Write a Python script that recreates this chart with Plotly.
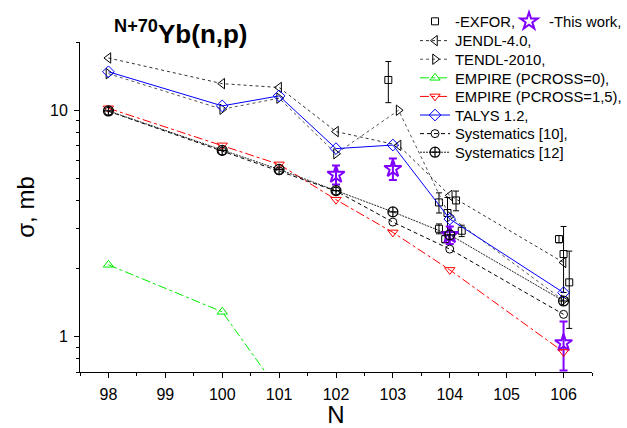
import math
import plotly.graph_objects as go

# ---------------- data ----------------
N_model = [98, 100, 101, 102, 103, 104, 106]

jendl_N = [98, 100, 101, 102, 103.1, 104, 106]
jendl = [17.0, 13.1, 12.6, 8.05, 7.0, 4.21, 2.13]

tendl_N = [98, 100, 101, 102, 103.1, 104, 106]
tendl = [14.5, 10.1, 11.3, 6.43, 10.0, 3.4, 1.45]

empire0_N = [98, 100, 101]
empire0 = [2.08, 1.29, 0.575]

empire15 = [10.2, 7.0, 5.77, 4.03, 2.89, 1.975, 0.858]

talys = [14.78, 10.45, 11.57, 6.77, 7.02, 3.31, 1.567]

syst10 = [9.9, 6.6, 5.4, 4.4, 3.21, 2.44, 1.257]

syst12 = [9.93, 6.65, 5.48, 4.42, 3.56, 2.82, 1.44]

exfor_N = [102.92, 103.81, 104.11, 103.96, 103.81, 103.92, 104.21, 105.92, 106.0, 106.1]
exfor = [13.6, 3.92, 4.0, 3.52, 3.0, 2.70, 2.94, 2.70, 2.32, 1.74]
exfor_err = [2.8, 0.4, 0.4, 0.6, 0.15, 0.1, 0.17, 0.1, 0.75, 0.65]

work_N = [102, 103, 104, 106]
work = [5.2, 5.52, 2.82, 0.94]
work_err = [0.5, 0.6, 0.25, 0.23]

x_ticks = [98, 99, 100, 101, 102, 103, 104, 105, 106]
y_ticks = [1, 10]
y_minor = [0.7, 0.8, 0.9, 2, 3, 4, 5, 6, 7, 8, 9, 20]

FONT = "Liberation Sans, Arial, sans-serif"
PURPLE = "#8000FF"
W, H = 627, 428

fig = go.Figure()

fig.add_trace(go.Scatter(
    x=exfor_N, y=exfor, mode="markers", name="-EXFOR,", legend="legend",
    marker=dict(symbol="square-open", size=7, color="black", line=dict(width=1)),
    error_y=dict(type="data", array=exfor_err, color="black", thickness=1, width=3),
))
fig.add_trace(go.Scatter(
    x=work_N, y=work, mode="markers", name="-This work,", legend="legend2",
    marker=dict(symbol="star-open", size=13, color=PURPLE, line=dict(width=2)),
    error_y=dict(type="data", array=work_err, color=PURPLE, thickness=2, width=4),
))
fig.add_trace(go.Scatter(
    x=jendl_N, y=jendl, mode="lines+markers", name="JENDL-4.0,", legend="legend3",
    line=dict(color="#333333", width=1, dash="dot"),
    marker=dict(symbol="triangle-left-open", size=9, color="black", line=dict(width=1)),
))
fig.add_trace(go.Scatter(
    x=tendl_N, y=tendl, mode="lines+markers", name="TENDL-2010,", legend="legend4",
    line=dict(color="#555555", width=1, dash="dot"),
    marker=dict(symbol="triangle-right-open", size=9, color="black", line=dict(width=1)),
))
fig.add_trace(go.Scatter(
    x=empire0_N, y=empire0, mode="lines+markers", name="EMPIRE (PCROSS=0),", legend="legend5",
    line=dict(color="#00EE00", width=1, dash="dashdot"),
    marker=dict(symbol="triangle-up-open", size=9, color="#00EE00", line=dict(width=1)),
))
fig.add_trace(go.Scatter(
    x=N_model, y=empire15, mode="lines+markers", name="EMPIRE (PCROSS=1,5),", legend="legend6",
    line=dict(color="#FF0000", width=1, dash="dashdot"),
    marker=dict(symbol="triangle-down-open", size=9, color="#FF0000", line=dict(width=1)),
))
fig.add_trace(go.Scatter(
    x=N_model, y=talys, mode="lines+markers", name="TALYS 1.2,", legend="legend7",
    line=dict(color="#0000FF", width=1),
    marker=dict(symbol="diamond-open", size=9, color="#0000FF", line=dict(width=1)),
))
fig.add_trace(go.Scatter(
    x=N_model, y=syst10, mode="lines+markers", name="Systematics [10],", legend="legend8",
    line=dict(color="black", width=1, dash="4px,3px"),
    marker=dict(symbol="circle-open", size=8, color="black", line=dict(width=1)),
))
fig.add_trace(go.Scatter(
    x=N_model, y=syst12, mode="lines+markers", name="Systematics [12]", legend="legend9",
    line=dict(color="#222222", width=1, dash="2px,1px"),
    marker=dict(symbol="circle-cross-open", size=10, color="black", line=dict(width=1.2)),
))


def leg(xpx, ypx, anchor="left"):
    return dict(
        x=xpx / W, y=1 - ypx / H, xanchor=anchor, yanchor="middle",
        xref="container", yref="container",
        bgcolor="rgba(0,0,0,0)", borderwidth=0,
        font=dict(family=FONT, size=14.8, color="black"),
        itemwidth=30,
    )


legend_layout = {"legend": leg(415, 21.7)}
legend_layout["legend2"] = leg(W + 4, 21.7, anchor="right")
for i in range(7):
    legend_layout[f"legend{i + 3}"] = leg(415, 41 + i * 18.6)

fig.update_layout(
    width=W, height=H,
    margin=dict(l=80, r=35, t=42, b=56, autoexpand=False),
    paper_bgcolor="white", plot_bgcolor="white",
    font=dict(family=FONT, size=16, color="black"),
    showlegend=True,
    **legend_layout,
    xaxis=dict(
        range=[97.5, 106.5],
        tickvals=x_ticks, ticktext=[str(v) for v in x_ticks],
        ticks="outside", ticklen=5, tickwidth=1, tickcolor="black",
        ticklabelstandoff=3,
        minor=dict(dtick=0.5, tick0=97.5, ticks="outside", ticklen=3, tickcolor="black", tickwidth=1),
        showline=True, linecolor="black", linewidth=1,
        showgrid=False, zeroline=False,
        title=dict(text="N", font=dict(size=24), standoff=6),
        tickfont=dict(size=16),
    ),
    yaxis=dict(
        type="log",
        range=[math.log10(0.7), math.log10(20)],
        tickvals=y_ticks, ticktext=[str(v) for v in y_ticks],
        ticks="outside", ticklen=5, tickwidth=1, tickcolor="black",
        ticklabelstandoff=3,
        minor=dict(tickvals=y_minor, ticks="outside", ticklen=3, tickcolor="black", tickwidth=1),
        showline=True, linecolor="black", linewidth=1,
        showgrid=False, zeroline=False,
        title=dict(text="σ, mb", font=dict(size=24), standoff=8),
        tickfont=dict(size=16),
    ),
    annotations=[dict(
        text="<b><sup>N+70</sup>Yb(n,p)</b>",
        xref="paper", yref="paper", x=0.197, y=1.028,
        xanchor="center", yanchor="middle", showarrow=False,
        font=dict(family=FONT, size=26, color="black"),
    )],
)

fig.write_html(
    "out.html",
    config={"displayModeBar": False},
    post_script="document.body.style.margin='0';document.body.style.overflow='hidden';",
)
